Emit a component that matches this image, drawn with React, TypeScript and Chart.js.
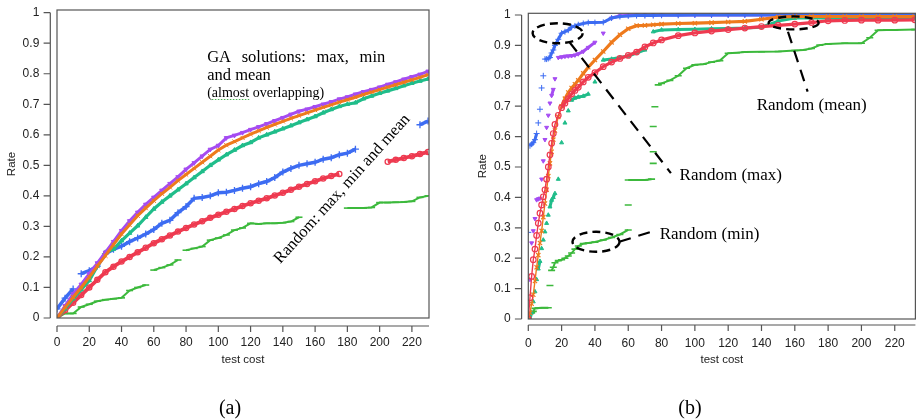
import { useEffect, useRef } from "react";
import { Chart, registerables } from "chart.js";

Chart.register(...registerables);

const SANS = '"Liberation Sans", Arial, Helvetica, sans-serif';
const SERIF = '"Liberation Serif", "Times New Roman", Times, serif';

// ---------- ticks ----------
const yTicks = [0, 0.1, 0.2, 0.3, 0.4, 0.5, 0.6, 0.7, 0.8, 0.9, 1];
const xTicks = [0, 20, 40, 60, 80, 100, 120, 140, 160, 180, 200, 220];

// ---------- panel (a) ----------
const costA = [0, 5, 10, 15, 20, 25, 30, 35, 40, 45, 50, 55, 60, 65, 70, 75, 80, 85, 90, 95, 100, 105, 110, 115, 120, 125, 130, 135, 140, 145, 150, 155, 160, 165, 170, 175, 180, 185, 190, 195, 200, 205, 210, 215, 220, 225, 230];
const gaMaxA = [0, 0.04, 0.079, 0.11, 0.145, 0.18, 0.215, 0.25, 0.286, 0.318, 0.346, 0.372, 0.395, 0.418, 0.44, 0.462, 0.487, 0.508, 0.53, 0.552, 0.565, 0.59, 0.598, 0.607, 0.617, 0.626, 0.636, 0.646, 0.656, 0.667, 0.677, 0.684, 0.692, 0.7, 0.708, 0.717, 0.724, 0.733, 0.741, 0.748, 0.756, 0.765, 0.773, 0.782, 0.79, 0.798, 0.808];
const gaMeanA = [0, 0.035, 0.068, 0.1, 0.134, 0.17, 0.204, 0.24, 0.275, 0.305, 0.335, 0.36, 0.384, 0.407, 0.428, 0.45, 0.47, 0.49, 0.51, 0.53, 0.55, 0.566, 0.578, 0.59, 0.602, 0.613, 0.624, 0.634, 0.644, 0.654, 0.663, 0.672, 0.681, 0.69, 0.698, 0.707, 0.715, 0.723, 0.732, 0.74, 0.748, 0.756, 0.764, 0.772, 0.78, 0.788, 0.797];
const gaMinA = [0, 0.03, 0.063, 0.093, 0.123, 0.17, 0.215, 0.225, 0.253, 0.278, 0.302, 0.33, 0.357, 0.38, 0.4, 0.42, 0.44, 0.46, 0.48, 0.5, 0.518, 0.535, 0.55, 0.565, 0.575, 0.59, 0.6, 0.61, 0.62, 0.63, 0.64, 0.65, 0.66, 0.672, 0.683, 0.693, 0.7, 0.705, 0.718, 0.727, 0.736, 0.744, 0.752, 0.761, 0.769, 0.776, 0.783];
const randMaxA = [0.03, 0.065, 0.095, 0.145, 0.155, 0.17, 0.21, 0.225, 0.235, 0.25, 0.262, 0.275, 0.29, 0.31, 0.32, 0.345, 0.365, 0.392, 0.395, 0.4, 0.41, 0.412, 0.418, 0.425, 0.43, 0.44, 0.447, 0.46, 0.478, 0.49, 0.5, 0.505, 0.51, 0.52, 0.525, 0.535, 0.54, 0.553, null, null, null, null, null, null, null, 0.633, 0.645];
const randMeanA = [0, 0.025, 0.05, 0.075, 0.1, 0.125, 0.15, 0.168, 0.185, 0.2, 0.215, 0.23, 0.245, 0.258, 0.27, 0.283, 0.295, 0.306, 0.317, 0.328, 0.338, 0.348, 0.357, 0.367, 0.376, 0.384, 0.392, 0.401, 0.41, 0.42, 0.43, 0.439, 0.448, 0.457, 0.465, 0.472, null, null, null, null, null, 0.512, 0.518, 0.524, 0.53, 0.537, 0.544];
const randMinA = [0, 0.015, 0.015, 0.036, 0.045, 0.055, 0.06, 0.063, 0.066, 0.09, 0.1, 0.108, 0.157, 0.165, 0.174, 0.19, 0.222, 0.228, 0.234, 0.255, 0.262, 0.272, 0.288, 0.295, 0.31, 0.308, 0.31, 0.31, 0.312, 0.316, 0.33, null, null, null, null, null, 0.36, 0.36, 0.36, 0.362, 0.378, 0.378, 0.379, 0.38, 0.382, 0.395, 0.4];

// ---------- panel (b) ----------
const costB = [0, 1, 2, 3, 4, 5, 6, 7, 8, 9, 10, 11, 12, 13, 14, 15, 16, 18, 20, 22, 24, 26, 28, 30, 33, 36, 40, 45, 50, 55, 60, 65, 70, 75, 80, 90, 100, 110, 120, 130, 140, 150, 160, 170, 180, 190, 200, 210, 220, 232];
const randMaxB = [0.285, 0.57, 0.575, 0.58, 0.59, 0.61, 0.645, 0.69, 0.76, 0.8, 0.855, 0.855, 0.857, 0.86, 0.875, 0.885, 0.9, 0.92, 0.94, 0.945, 0.95, 0.96, 0.964, 0.968, 0.972, 0.975, 0.975, 0.976, 0.99, 0.995, 0.997, 0.998, 0.998, 0.998, 0.999, 0.999, 1, 1, 1, 1, 1, 1, 1, 1, 1, 1, 1, 1, 1, 1];
const gaMaxB = [0, 0.13, 0.25, 0.29, 0.33, 0.392, 0.395, 0.397, 0.46, 0.52, 0.59, 0.63, 0.67, 0.71, 0.735, 0.755, 0.79, 0.86, 0.862, 0.864, 0.865, 0.866, 0.868, 0.872, 0.88, 0.893, 0.91, 0.94, 0.99, 0.997, 0.999, 1, 1, 1, 1, 1, 1, 1, 1, 1, 1, 1, 1, 1, 1, 1, 1, 1, 1, 1];
const gaMeanB = [0, 0.02, 0.05, 0.08, 0.125, 0.17, 0.21, 0.25, 0.29, 0.335, 0.38, 0.425, 0.47, 0.512, 0.55, 0.59, 0.62, 0.665, 0.7, 0.725, 0.745, 0.76, 0.772, 0.785, 0.808, 0.828, 0.852, 0.88, 0.91, 0.935, 0.955, 0.965, 0.966, 0.968, 0.97, 0.972, 0.973, 0.975, 0.977, 0.979, 0.986, 0.993, 0.995, 0.995, 0.995, 0.995, 0.995, 0.995, 0.995, 0.995];
const randMeanB = [0, 0.07, 0.14, 0.195, 0.23, 0.275, 0.315, 0.348, 0.375, 0.402, 0.425, 0.46, 0.5, 0.54, 0.578, 0.61, 0.64, 0.67, 0.695, 0.71, 0.725, 0.74, 0.752, 0.762, 0.78, 0.795, 0.81, 0.83, 0.845, 0.857, 0.867, 0.878, 0.895, 0.908, 0.918, 0.932, 0.941, 0.947, 0.952, 0.957, 0.962, 0.966, 0.97, 0.975, 0.981, 0.982, 0.983, 0.983, 0.983, 0.984];
const gaMinB = [0, 0, 0.02, 0.057, 0.09, 0.13, 0.165, 0.19, 0.232, 0.26, 0.287, 0.315, 0.342, 0.369, 0.391, 0.4, 0.413, 0.46, 0.58, 0.645, 0.685, 0.72, 0.727, 0.73, 0.733, 0.74, 0.78, 0.852, 0.855, 0.86, 0.865, 0.875, 0.885, 0.945, 0.951, 0.952, 0.953, 0.955, 0.956, 0.957, 0.96, 0.98, 0.99, 0.99, 0.99, 0.99, 0.99, 0.99, 0.99, 0.99];
const costMinB = [0, 2, 3, 4, 6, 8, 10, 12, 13, 14, 15, 16, 18, 20, 22, 24, 26, 28, 30, 33, 36, 40, 45, 50, 55, 60, 60, 60, 65, 70, 74, 75, 75, 75, 76, 78, 80, 85, 90, 95, 100, 105, 110, 115, 120, 125, 130, 140, 150, 160, 165, 170, 175, 180, 190, 200, 205, 210, 215, 220, 232];
const randMinB = [0, 0.02, 0.025, 0.035, 0.036, 0.037, 0.037, 0.037, 0.11, 0.16, 0.17, 0.185, 0.192, 0.195, 0.2, 0.207, 0.217, 0.23, 0.24, 0.248, 0.25, 0.253, 0.26, 0.268, 0.278, 0.293, 0.375, 0.457, 0.457, 0.457, 0.46, 0.512, 0.55, 0.633, 0.698, 0.77, 0.775, 0.785, 0.8, 0.825, 0.836, 0.838, 0.845, 0.85, 0.874, 0.876, 0.878, 0.879, 0.88, 0.883, 0.885, 0.89, 0.901, 0.905, 0.907, 0.907, 0.925, 0.95, 0.951, 0.951, 0.952];

// ---------- colours ----------
const PURPLE = "#a54cf2";
const ORANGE = "#ee7a1c";
const TEAL = "#20bd8a";
const BLUE = "#3d6cf2";
const RED = "#ee3a50";
const GREEN = "#3cb93c";
const AXIS = "#555555";

const hideJumps = (thr: number) => (c: any) =>
  Math.abs(c.p1.parsed.y - c.p0.parsed.y) > thr ? "rgba(0,0,0,0)" : undefined;

function series(xs: number[], ys: (number | null)[], color: string, style: string, extra: any = {}) {
  return {
    data: xs.map((x, i) => ({ x, y: ys[i] })),
    borderColor: color,
    backgroundColor: color,
    pointStyle: style,
    pointRadius: 2.5,
    pointBorderColor: color,
    pointBackgroundColor: color,
    pointBorderWidth: 1,
    borderWidth: 2.5,
    tension: 0,
    spanGaps: false,
    ...extra,
  };
}

function scalesFor(xMax: number, yMax: number, yWidth: number, xHeight: number) {
  const tickFont = { family: SANS, size: 12 };
  return {
    x: {
      type: "linear",
      min: 0,
      max: xMax,
      border: { display: false },
      grid: { display: true, drawOnChartArea: false, color: "rgba(0,0,0,0)", tickLength: 17 },
      afterBuildTicks: (s: any) => { s.ticks = xTicks.map((v) => ({ value: v })); },
      afterFit: (s: any) => { s.height = xHeight; },
      ticks: { padding: 0, font: tickFont, color: "#222", maxRotation: 0, autoSkip: false, callback: (v: any) => String(v) },
    },
    y: {
      type: "linear",
      min: 0,
      max: yMax,
      border: { display: false },
      grid: { display: true, drawOnChartArea: false, color: "rgba(0,0,0,0)", tickLength: 17.7 },
      afterBuildTicks: (s: any) => { s.ticks = yTicks.map((v) => ({ value: v })); },
      afterFit: (s: any) => { s.width = yWidth; },
      ticks: { padding: 0, font: tickFont, color: "#222", autoSkip: false, callback: (v: any) => String(v) },
    },
  };
}

function framePlugin(cfg: any) {
  return {
    id: "frame" + cfg.panel,
    afterDraw(chart: any) {
      const { ctx, chartArea: a } = chart;
      const xs = chart.scales.x;
      const ys = chart.scales.y;
      ctx.save();
      ctx.setLineDash([]);
      ctx.strokeStyle = AXIS;
      ctx.lineWidth = 1.2;
      ctx.strokeRect(a.left, a.top, a.right - a.left, a.bottom - a.top);
      ctx.beginPath();
      const yx = a.left - 6.7;
      ctx.moveTo(yx, ys.getPixelForValue(yTicks[0]));
      ctx.lineTo(yx, ys.getPixelForValue(yTicks[yTicks.length - 1]));
      yTicks.forEach((v) => {
        const p = ys.getPixelForValue(v);
        ctx.moveTo(yx, p);
        ctx.lineTo(yx - 6.7, p);
      });
      const xy = a.bottom + cfg.xGap;
      ctx.moveTo(a.left, xy);
      ctx.lineTo(a.right, xy);
      xTicks.forEach((v) => {
        const p = xs.getPixelForValue(v);
        ctx.moveTo(p, xy);
        ctx.lineTo(p, xy + 6);
      });
      ctx.stroke();

      ctx.fillStyle = "#222";
      ctx.font = `11.5px ${SANS}`;
      ctx.textAlign = "center";
      ctx.textBaseline = "middle";
      ctx.fillText("test cost", (a.left + a.right) / 2, 360);
      ctx.save();
      ctx.translate(cfg.rateX, (a.top + a.bottom) / 2);
      ctx.rotate(-Math.PI / 2);
      ctx.fillText("Rate", 0, 0);
      ctx.restore();

      ctx.fillStyle = "#000";
      ctx.font = `20px ${SERIF}`;
      ctx.textBaseline = "alphabetic";
      ctx.fillText(cfg.panel, cfg.panelX, 414);

      cfg.annotate(ctx, xs, ys);
      ctx.restore();
    },
  };
}

function justify(ctx: any, words: string[], x0: number, x1: number, y: number) {
  const widths = words.map((w) => ctx.measureText(w).width);
  const total = widths.reduce((s, w) => s + w, 0);
  const gap = (x1 - x0 - total) / (words.length - 1);
  let x = x0;
  words.forEach((w, i) => {
    ctx.fillText(w, x, y);
    x += widths[i] + gap;
  });
}

function annotateA(ctx: any, xs: any, ys: any) {
  ctx.fillStyle = "#000";
  ctx.textAlign = "left";
  ctx.textBaseline = "alphabetic";
  ctx.font = `16.5px ${SERIF}`;
  const x0 = xs.getPixelForValue(93.1);
  const x1 = xs.getPixelForValue(203.5);
  justify(ctx, ["GA", "solutions:", "max,", "min"], x0, x1, ys.getPixelForValue(0.8385));
  ctx.fillText("and mean", x0, ys.getPixelForValue(0.7796));
  ctx.font = `14px ${SERIF}`;
  const y3 = ys.getPixelForValue(0.7239);
  ctx.fillText("(almost overlapping)", x0, y3);
  const w1 = ctx.measureText("(").width;
  const w2 = ctx.measureText("(almost").width;
  ctx.save();
  ctx.strokeStyle = "#4caf50";
  ctx.lineWidth = 1.2;
  ctx.setLineDash([1.5, 1.5]);
  ctx.beginPath();
  ctx.moveTo(x0 + w1, y3 + 2.5);
  ctx.lineTo(x0 + w2, y3 + 2.5);
  ctx.stroke();
  ctx.restore();

  ctx.save();
  ctx.translate(xs.getPixelForValue(176.8), ys.getPixelForValue(0.4225));
  ctx.rotate((-48 * Math.PI) / 180);
  ctx.font = `16.5px ${SERIF}`;
  ctx.textAlign = "center";
  ctx.textBaseline = "middle";
  ctx.fillText("Random: max, min and mean", 0, 0);
  ctx.restore();
}

function annotateB(ctx: any, xs: any, ys: any) {
  const P = (x: number, y: number) => [xs.getPixelForValue(x), ys.getPixelForValue(y)];
  const ellipse = (x: number, y: number, rx: number, ry: number) => {
    const [cx, cy] = P(x, y);
    ctx.save();
    ctx.strokeStyle = "#000";
    ctx.lineWidth = 2.4;
    ctx.setLineDash([8, 5]);
    ctx.beginPath();
    ctx.ellipse(cx, cy, rx, ry, 0, 0, Math.PI * 2);
    ctx.stroke();
    ctx.restore();
  };
  const leader = (xa: number, ya: number, xb: number, yb: number) => {
    const [ax, ay] = P(xa, ya);
    const [bx, by] = P(xb, yb);
    ctx.save();
    ctx.strokeStyle = "#000";
    ctx.lineWidth = 2.2;
    ctx.setLineDash([12, 8]);
    ctx.beginPath();
    ctx.moveTo(ax, ay);
    ctx.lineTo(bx, by);
    ctx.stroke();
    ctx.restore();
  };
  const label = (t: string, x: number, y: number) => {
    const [px, py] = P(x, y);
    ctx.save();
    ctx.fillStyle = "#000";
    ctx.font = `17px ${SERIF}`;
    ctx.textAlign = "left";
    ctx.textBaseline = "alphabetic";
    ctx.fillText(t, px, py);
    ctx.restore();
  };
  ellipse(17.6, 0.94, 25, 10);
  leader(24.7, 0.911, 85.6, 0.48);
  label("Random (max)", 90.8, 0.457);
  ellipse(159.3, 0.974, 25, 6.5);
  leader(155.9, 0.945, 167.7, 0.748);
  label("Random (mean)", 137.1, 0.6875);
  ellipse(40.65, 0.254, 23.5, 10);
  leader(54.6, 0.254, 75, 0.289);
  label("Random (min)", 78.9, 0.262);
}

export default function App() {
  const refA = useRef<HTMLCanvasElement | null>(null);
  const refB = useRef<HTMLCanvasElement | null>(null);

  useEffect(() => {
    const common = {
      animation: false,
      responsive: false,
      maintainAspectRatio: false,
      events: [],
      plugins: { legend: { display: false }, tooltip: { enabled: false } },
    };

    const chartA = new Chart(refA.current as HTMLCanvasElement, {
      type: "line",
      data: {
        datasets: [
          series(costA, gaMeanA, ORANGE, "crossRot", { pointRadius: 3, borderWidth: 3 }),
          series(costA, gaMaxA, PURPLE, "triangle", { pointRotation: 180, pointRadius: 2.5, borderWidth: 3 }),
          series(costA, gaMinA, TEAL, "triangle", { pointRadius: 2.5, borderWidth: 3.2 }),
          series(costA, randMeanA, RED, "circle", { pointBackgroundColor: "rgba(255,255,255,0)", pointRadius: 2.6, pointBorderWidth: 1.3, borderWidth: 3.8 }),
          series(costA, randMaxA, BLUE, "cross", { pointRadius: 3.5, pointBorderWidth: 1.3, borderWidth: 3.5, segment: { borderColor: hideJumps(0.04) } }),
          series(costA, randMinA, GREEN, "line", { pointRadius: 3.5, pointBorderWidth: 1.6, borderWidth: 2, segment: { borderColor: hideJumps(0.025) } }),
        ],
      },
      options: {
        ...common,
        layout: { padding: { left: 0, top: 10, right: 31, bottom: 0 } },
        scales: scalesFor(230.6, 1.0088, 57, 102),
      } as any,
      plugins: [framePlugin({ panel: "(a)", panelX: 230, rateX: 12, xGap: 8, annotate: annotateA })],
    } as any);

    const wide = (c: any) => (c.p0.parsed.x >= 20 ? 3.2 : 1.4);
    const chartB = new Chart(refB.current as HTMLCanvasElement, {
      type: "line",
      data: {
        datasets: [
          series(costB, randMeanB, RED, "circle", { pointBackgroundColor: "rgba(255,255,255,0)", pointRadius: 2.8, pointBorderWidth: 1.2, borderWidth: 1.4, segment: { borderWidth: wide } }),
          series(costB, gaMeanB, ORANGE, "crossRot", { pointRadius: 3, pointBorderWidth: 1.2, borderWidth: 1.4, segment: { borderWidth: wide } }),
          series(costB, randMaxB, BLUE, "cross", { pointRadius: 3, borderWidth: 3, segment: { borderColor: hideJumps(0.025) } }),
          series(costB, gaMaxB, PURPLE, "triangle", { pointRotation: 180, pointRadius: 2.3, borderWidth: 3, segment: { borderColor: hideJumps(0.025) } }),
          series(costB, gaMinB, TEAL, "triangle", { pointRadius: 2.3, borderWidth: 3, segment: { borderColor: hideJumps(0.025) } }),
          series(costMinB, randMinB, GREEN, "line", { pointRadius: 3.5, pointBorderWidth: 1.6, borderWidth: 2, segment: { borderColor: hideJumps(0.025) } }),
        ],
      },
      options: {
        ...common,
        layout: { padding: { left: 0, top: 13.3, right: 0, bottom: 0 } },
        scales: scalesFor(232.4, 1.0056, 68.3, 101),
      } as any,
      plugins: [framePlugin({ panel: "(b)", panelX: 230, rateX: 22.5, xGap: 6, annotate: annotateB })],
    } as any);

    return () => {
      chartA.destroy();
      chartB.destroy();
    };
  }, []);

  return (
    <div style={{ position: "absolute", left: 0, top: 0, width: 921, height: 420, background: "#fff", overflow: "hidden" }}>
      <canvas ref={refA} width={460} height={420} style={{ position: "absolute", left: 0, top: 0, width: 460, height: 420 }} />
      <canvas ref={refB} width={461} height={420} style={{ position: "absolute", left: 460, top: 0, width: 461, height: 420 }} />
    </div>
  );
}
